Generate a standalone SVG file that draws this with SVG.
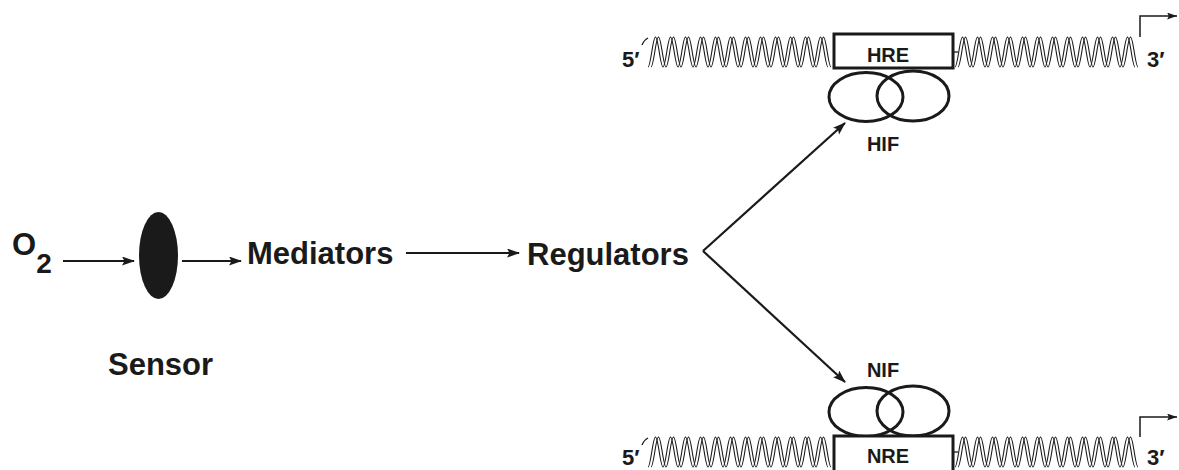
<svg xmlns="http://www.w3.org/2000/svg" xmlns:xlink="http://www.w3.org/1999/xlink" width="1179" height="470" viewBox="0 0 1179 470">
<style>
.lbl{font-family:"Liberation Sans",Arial,sans-serif;font-weight:bold;fill:#1a1a1a}
.big{font-size:31px}
.sm{font-size:20px}
.end{font-size:22px}
.arrow{stroke:#1a1a1a;stroke-width:2.2;fill:none;marker-end:url(#ah)}
.oval{fill:none;stroke:#1a1a1a;stroke-width:3}
.box{fill:#fff;stroke:#1a1a1a;stroke-width:3}
.sA{fill:none;stroke:#1a1a1a;stroke-width:1.1}
.thin{fill:none;stroke:#1a1a1a;stroke-width:1.3}
</style>
<defs>
<marker id="ah" markerUnits="userSpaceOnUse" markerWidth="14" markerHeight="10" refX="12" refY="4.5" orient="auto">
<path d="M0,0 L13,4.5 L0,9 L2.5,4.5 z" fill="#1a1a1a"/>
</marker>
<marker id="ahs" markerUnits="userSpaceOnUse" markerWidth="12" markerHeight="8" refX="10" refY="3.5" orient="auto">
<path d="M0,0 L10,3.5 L0,7 L2,3.5 z" fill="#1a1a1a"/>
</marker>
<path id="strand" d="M0,30c2.73,0 4.77,-30 7.5,-30s4.77,30 7.5,30s4.77,-30 7.5,-30s4.77,30 7.5,30s4.77,-30 7.5,-30s4.77,30 7.5,30s4.77,-30 7.5,-30s4.77,30 7.5,30s4.77,-30 7.5,-30s4.77,30 7.5,30s4.77,-30 7.5,-30s4.77,30 7.5,30s4.77,-30 7.5,-30s4.77,30 7.5,30s4.77,-30 7.5,-30s4.77,30 7.5,30s4.77,-30 7.5,-30s4.77,30 7.5,30s4.77,-30 7.5,-30s4.77,30 7.5,30s4.77,-30 7.5,-30s4.77,30 7.5,30s4.77,-30 7.5,-30s4.77,30 7.5,30"/>
<g id="helix">
<use xlink:href="#strand" class="sA"/>
<use xlink:href="#strand" class="sA" x="3"/>
</g>
</defs>

<g id="o2">
<text class="lbl big" x="12" y="255">O<tspan font-size="28" dy="18">2</tspan></text>
</g>

<g id="sensor">
<ellipse cx="158.5" cy="255.5" rx="19.5" ry="43.5" fill="#1a1a1a"/>
<text class="lbl big" x="108" y="375">Sensor</text>
</g>

<g id="mediators">
<text class="lbl big" x="247" y="264">Mediators</text>
</g>

<g id="regulators">
<text class="lbl big" x="527" y="265">Regulators</text>
</g>

<g id="hre-gene">
<use xlink:href="#helix" x="648" y="37"/>
<use xlink:href="#helix" x="955" y="37"/>
<path class="thin" d="M642,45 q2,-5 6,-7"/>
<path class="thin" d="M953,52 H958"/>
<rect class="box" x="834" y="34" width="119" height="34"/>
<text class="lbl sm" x="888" y="62" text-anchor="middle">HRE</text>
<text class="lbl end" x="622" y="67">5′</text>
<text class="lbl end" x="1147" y="67">3′</text>
<path d="M1140,37 V16 H1177" fill="none" stroke="#1a1a1a" stroke-width="1.5" marker-end="url(#ahs)"/>
</g>

<g id="hif">
<ellipse class="oval" cx="866" cy="97" rx="37" ry="24.5"/>
<ellipse class="oval" cx="913" cy="96" rx="36" ry="25"/>
<text class="lbl sm" x="883" y="151" text-anchor="middle">HIF</text>
</g>

<g id="nif">
<text class="lbl sm" x="883" y="377" text-anchor="middle">NIF</text>
<ellipse class="oval" cx="866" cy="412" rx="37" ry="24.5"/>
<ellipse class="oval" cx="913" cy="411" rx="36" ry="25"/>
</g>

<g id="nre-gene">
<use xlink:href="#helix" x="648" y="437"/>
<use xlink:href="#helix" x="955" y="437"/>
<path class="thin" d="M642,445 q2,-5 6,-7"/>
<path class="thin" d="M953,452 H958"/>
<rect class="box" x="834" y="436" width="119" height="40"/>
<text class="lbl sm" x="888" y="463" text-anchor="middle">NRE</text>
<text class="lbl end" x="622" y="465">5′</text>
<text class="lbl end" x="1147" y="465">3′</text>
<path d="M1140,437 V417 H1177" fill="none" stroke="#1a1a1a" stroke-width="1.5" marker-end="url(#ahs)"/>
</g>

<g id="connectors">
<line class="arrow" x1="63" y1="261" x2="134" y2="261"/>
<line class="arrow" x1="182" y1="261" x2="241" y2="261"/>
<line class="arrow" x1="406" y1="253" x2="519" y2="253"/>
<line class="arrow" x1="703" y1="251" x2="845" y2="123"/>
<line class="arrow" x1="703" y1="251" x2="845" y2="382"/>
</g>
</svg>
